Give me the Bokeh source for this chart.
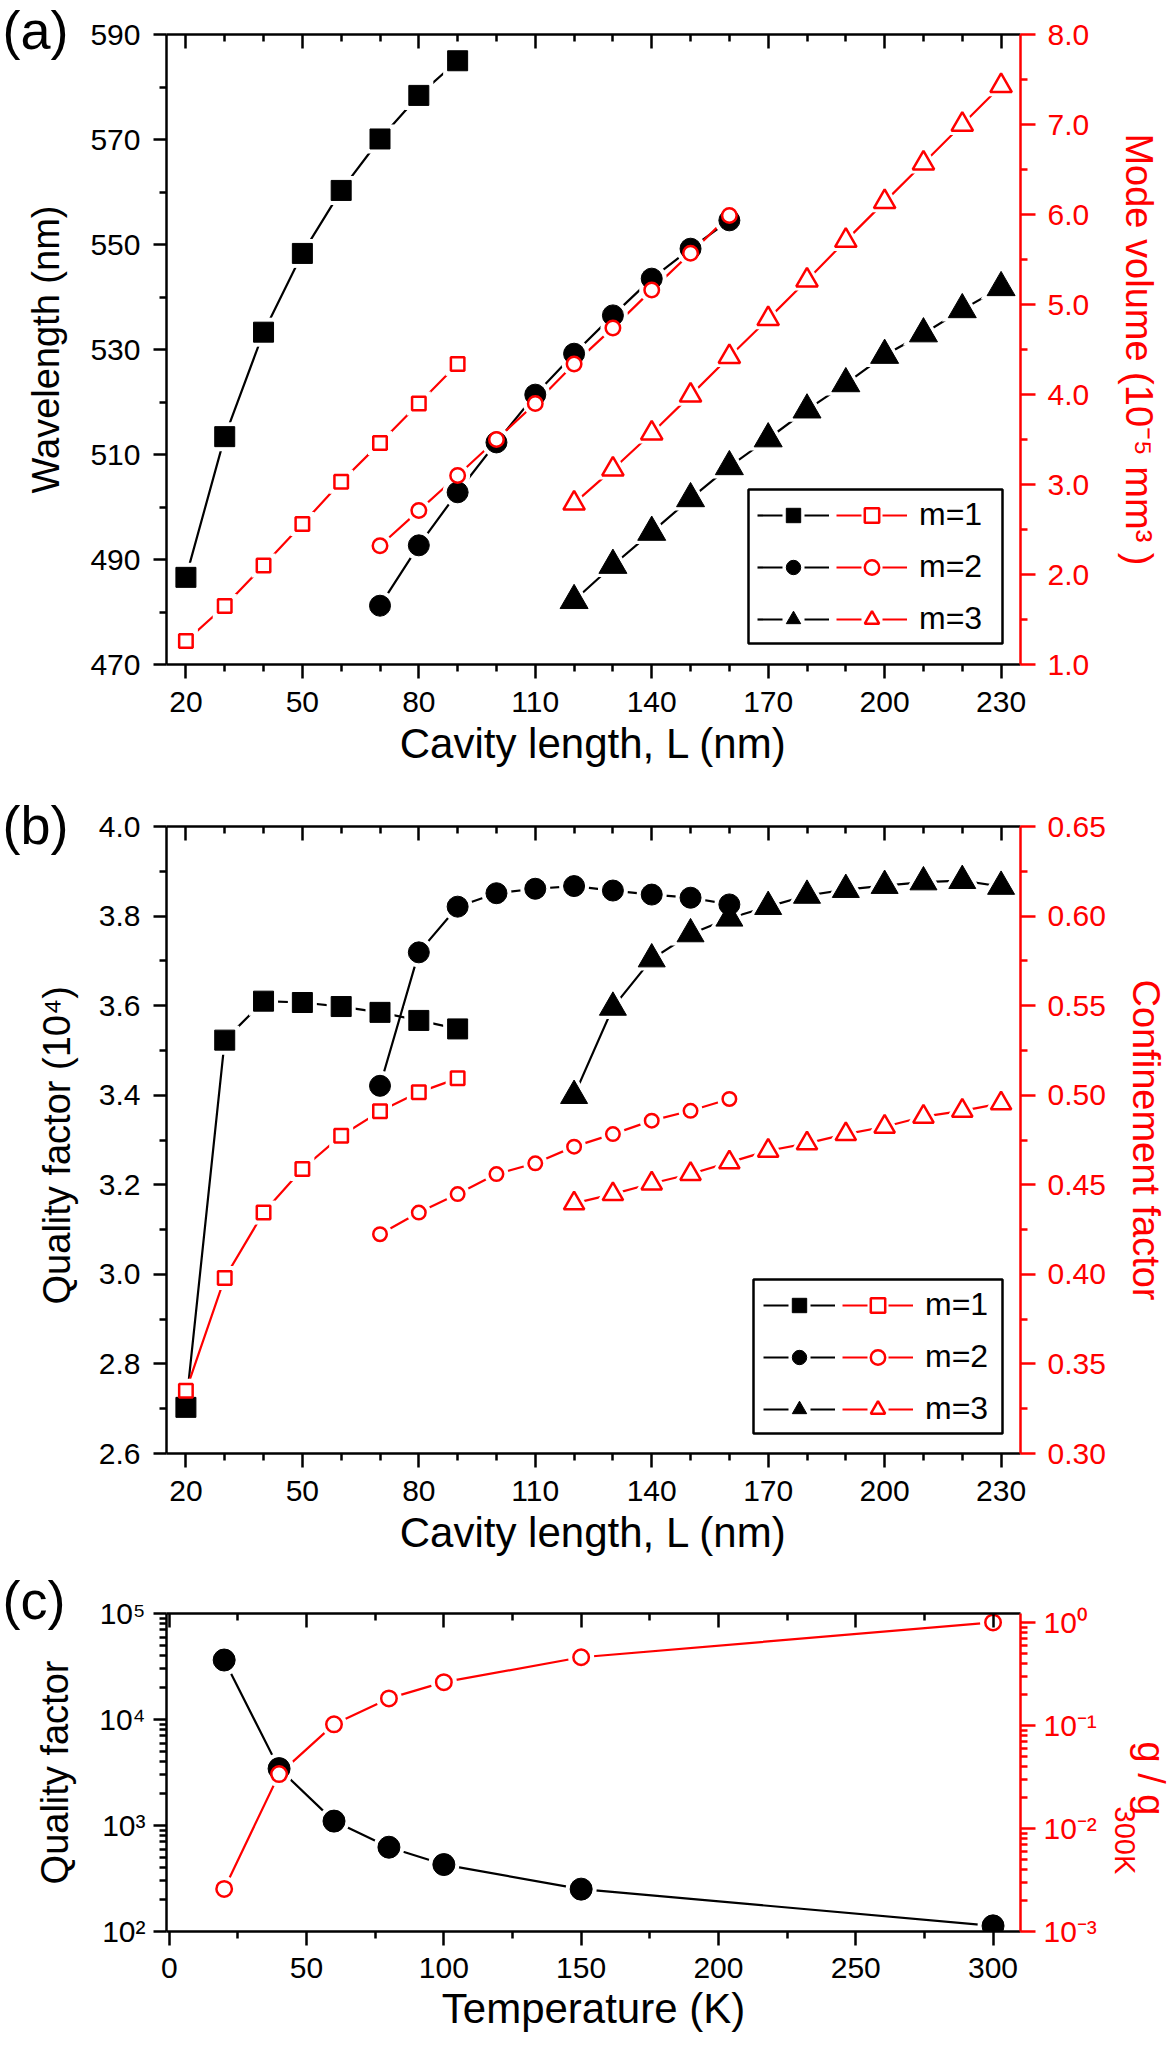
from bokeh.plotting import figure
from bokeh.models import (Range1d, LinearAxis, LogAxis, FixedTicker, Legend, LegendItem,
                          BoxAnnotation, Title, CustomJSTickFormatter, LogScale,
                          NumeralTickFormatter)
from bokeh.layouts import column
from bokeh.embed import file_html
from bokeh.resources import INLINE

FONT = "Liberation Sans"
RED = "#ff0000"
BLACK = "#000000"
NAN = float("nan")

# ---------------- data: panels (a) and (b) ----------------
L_m1 = [20, 30, 40, 50, 60, 70, 80, 90]
L_m2 = [70, 80, 90, 100, 110, 120, 130, 140, 150, 160]
L_m3 = [120, 130, 140, 150, 160, 170, 180, 190, 200, 210, 220, 230]

wavelength_m1 = [486.6, 513.4, 533.3, 548.3, 560.3, 570.1, 578.4, 585.0]
wavelength_m2 = [481.2, 492.7, 502.8, 512.3, 521.4, 529.2, 536.5, 543.5, 549.2, 554.6]
wavelength_m3 = [482.2, 488.9, 495.2, 501.6, 507.7, 513.0, 518.5, 523.5, 528.9, 533.0, 537.6, 541.8]

volume_m1 = [1.26, 1.65, 2.10, 2.56, 3.03, 3.46, 3.90, 4.34]
volume_m2 = [2.32, 2.71, 3.10, 3.50, 3.90, 4.34, 4.74, 5.16, 5.57, 5.99]
volume_m3 = [2.79, 3.17, 3.57, 3.99, 4.42, 4.84, 5.27, 5.71, 6.14, 6.57, 7.00, 7.43]

quality_m1 = [2.703, 3.523, 3.610, 3.607, 3.598, 3.585, 3.567, 3.548]
quality_m2 = [3.421, 3.719, 3.821, 3.851, 3.861, 3.867, 3.857, 3.848, 3.841, 3.826]
quality_m3 = [3.399, 3.596, 3.704, 3.760, 3.795, 3.821, 3.846, 3.859, 3.868, 3.876, 3.879, 3.866]

confinement_m1 = [0.335, 0.398, 0.4345, 0.4588, 0.4774, 0.491, 0.5016, 0.5094]
confinement_m2 = [0.4224, 0.4345, 0.4448, 0.456, 0.462, 0.4713, 0.4783, 0.4858, 0.4913, 0.4979]
confinement_m3 = [0.4396, 0.4448, 0.4507, 0.456, 0.4625, 0.469, 0.4731, 0.4783, 0.4824, 0.488, 0.4913, 0.4954]

legend_labels = ["m=1", "m=2", "m=3"]

# ---------------- data: panel (c) ----------------
temperature = [20, 40, 60, 80, 100, 150, 300]
quality_T = [36400, 3440, 1100, 624, 428, 251, 113]
g_ratio = [0.00259, 0.0337, 0.1025, 0.183, 0.263, 0.459, 1.0]

# ---------------- ticks ----------------
L_major = [20, 50, 80, 110, 140, 170, 200, 230]
L_minor = [30, 40, 60, 70, 90, 100, 120, 130, 150, 160, 180, 190, 210, 220]
wl_major = [470, 490, 510, 530, 550, 570, 590]
wl_minor = [480, 500, 520, 540, 560, 580]
vol_major = [1.0, 2.0, 3.0, 4.0, 5.0, 6.0, 7.0, 8.0]
vol_minor = [1.5, 2.5, 3.5, 4.5, 5.5, 6.5, 7.5]
q_major = [2.6, 2.8, 3.0, 3.2, 3.4, 3.6, 3.8, 4.0]
q_minor = [2.7, 2.9, 3.1, 3.3, 3.5, 3.7, 3.9]
cf_major = [0.30, 0.35, 0.40, 0.45, 0.50, 0.55, 0.60, 0.65]
cf_minor = [0.325, 0.375, 0.425, 0.475, 0.525, 0.575, 0.625]
T_major = [0, 50, 100, 150, 200, 250, 300]
T_minor = [25, 75, 125, 175, 225, 275]
Qc_major = [1e2, 1e3, 1e4, 1e5]
Qc_minor = [k * 10.0 ** n for n in (2, 3, 4) for k in range(2, 10)]
g_major = [1e-3, 1e-2, 1e-1, 1.0]
g_minor = [k * 10.0 ** n for n in (-3, -2, -1) for k in range(2, 10)]

POW_FMT = CustomJSTickFormatter(code="""
const s = {'0':'\\u2070','1':'\\u00b9','2':'\\u00b2','3':'\\u00b3','4':'\\u2074','5':'\\u2075','-':'\\u207b'};
const e = Math.round(Math.log10(tick));
return '10' + String(e).split('').map(c => s[c]).join('');
""")

TICK_FONT = "30px"


def style(ax, color=BLACK, tick_out=14, minor_out=7, lab_standoff=13,
          title_size="38px", title_standoff=20):
    ax.axis_line_color = color
    ax.axis_line_width = 2.5
    ax.major_tick_line_color = color
    ax.minor_tick_line_color = color
    ax.major_tick_line_width = 2.5
    ax.minor_tick_line_width = 2.5
    ax.major_tick_in = 0
    ax.major_tick_out = tick_out
    ax.minor_tick_in = 0
    ax.minor_tick_out = minor_out
    ax.major_label_text_color = color
    ax.major_label_text_font = FONT
    ax.major_label_text_font_size = TICK_FONT
    ax.major_label_standoff = lab_standoff
    ax.axis_label_text_color = color
    ax.axis_label_text_font = FONT
    ax.axis_label_text_font_size = title_size
    ax.axis_label_text_font_style = "normal"
    ax.axis_label_standoff = title_standoff


def add_top(p, major, minor):
    ax = LinearAxis(ticker=FixedTicker(ticks=major, minor_ticks=minor))
    style(ax)
    ax.major_tick_in = 14
    ax.major_tick_out = 0
    ax.minor_tick_in = 7
    ax.minor_tick_out = 0
    ax.major_label_text_font_size = "10px"
    ax.major_label_text_color = None
    ax.major_label_standoff = 0
    p.add_layout(ax, "above")


def make_fig(xr, yr, top, fh, bottom, y_axis_type="linear"):
    p = figure(frame_width=854, frame_height=fh, min_border_left=166, min_border_right=155,
               min_border_top=top, min_border_bottom=bottom, x_range=xr, y_range=yr,
               y_axis_type=y_axis_type, output_backend="svg", toolbar_location=None, tools="")
    p.outline_line_color = None
    p.xgrid.visible = False
    p.ygrid.visible = False
    p.background_fill_color = "white"
    p.border_fill_color = "white"
    return p


def draw_series(p, specs):
    """specs: list of dict(x, y, marker, size, color, filled, yname)"""
    lines, markers = [], []
    for s in specs:
        kw = {"y_range_name": s["yname"]} if s.get("yname") else {}
        lines.append(p.line(s["x"], s["y"], line_color=s["color"], line_width=2.2, **kw))
    for s in specs:
        kw = {"y_range_name": s["yname"]} if s.get("yname") else {}
        extra = 12 if s["marker"] == "triangle" else 8
        p.scatter(s["x"], s["y"], marker=s["marker"], size=s["size"] + extra,
                  fill_color="white", line_color=None, **kw)
    for s in specs:
        kw = {"y_range_name": s["yname"]} if s.get("yname") else {}
        if s["filled"]:
            m = p.scatter(s["x"], s["y"], marker=s["marker"], size=s["size"] - 1,
                          fill_color=s["color"], line_color=s["color"], line_width=1, **kw)
        else:
            m = p.scatter(s["x"], s["y"], marker=s["marker"], size=s["size"] - 2.5,
                          fill_color="white", line_color=s["color"], line_width=2.5, **kw)
        markers.append(m)
    return lines, markers


def add_legend(p, blk_markers, red_markers, box, locA, locB):
    p.add_layout(BoxAnnotation(left=box[0], right=box[1], bottom=box[2], top=box[3],
                               left_units="screen", right_units="screen",
                               top_units="screen", bottom_units="screen",
                               fill_color="white", fill_alpha=1.0,
                               line_color="black", line_width=2.5, line_alpha=1.0))
    # legend-only line samples (a single NaN point, so nothing shows in the plot area)
    blk_dash = [p.line([NAN], [NAN], line_color=BLACK, line_width=2.2, line_dash="25 22")
                for _ in blk_markers]
    red_dash = [p.line([NAN], [NAN], line_color=RED, line_width=2.2, line_dash="25 21")
                for _ in red_markers]
    common = dict(orientation="vertical", glyph_height=36, spacing=15, padding=0, margin=0,
                  border_line_color=None, background_fill_alpha=0.0,
                  label_text_font=FONT, label_text_font_size="32px")
    legA = Legend(items=[LegendItem(label=t, renderers=[d, m])
                         for t, d, m in zip(legend_labels, blk_dash, blk_markers)],
                  location=locA, glyph_width=72, label_standoff=0, label_width=0,
                  label_text_color=None, **common)
    legB = Legend(items=[LegendItem(label=t, renderers=[d, m])
                         for t, d, m in zip(legend_labels, red_dash, red_markers)],
                  location=locB, glyph_width=71, label_standoff=12, label_width=0,
                  label_text_color=BLACK, **common)
    p.add_layout(legA)
    p.add_layout(legB)


def tag(p, text, standoff):
    # panel tag placed in the top border panel, pulled down next to the frame corner
    p.add_layout(Title(text=text, align="left", vertical_align="bottom", offset=-164,
                       standoff=standoff, text_font=FONT, text_font_size="54px",
                       text_font_style="normal", text_color=BLACK), "above")


# ======================= panel (a) =======================
pa = make_fig(Range1d(15, 235), Range1d(470, 590), 34, 630, 116)
pa.extra_y_ranges = {"vol": Range1d(1.0, 8.0)}
xa = pa.xaxis[0]
xa.ticker = FixedTicker(ticks=L_major, minor_ticks=L_minor)
xa.formatter = NumeralTickFormatter(format="0")
xa.axis_label = "Cavity length, L (nm)"
style(xa, title_size="42px", lab_standoff=13, title_standoff=5)
ya = pa.yaxis[0]
ya.ticker = FixedTicker(ticks=wl_major, minor_ticks=wl_minor)
ya.formatter = NumeralTickFormatter(format="0")
ya.axis_label = "Wavelength (nm)"
style(ya, tick_out=13, title_standoff=20)
ra = LinearAxis(y_range_name="vol", ticker=FixedTicker(ticks=vol_major, minor_ticks=vol_minor),
                formatter=NumeralTickFormatter(format="0.0"),
                axis_label="Mode volume (10\u207b\u2075 mm\u00b3 )")
style(ra, color=RED, tick_out=15, lab_standoff=12, title_standoff=26)
pa.add_layout(ra, "right")
add_top(pa, L_major, L_minor)

la, ma = draw_series(pa, [
    dict(x=L_m1, y=wavelength_m1, marker="square", size=21, color=BLACK, filled=True),
    dict(x=L_m2, y=wavelength_m2, marker="circle", size=22, color=BLACK, filled=True),
    dict(x=L_m3, y=wavelength_m3, marker="triangle", size=29, color=BLACK, filled=True),
    dict(x=L_m1, y=volume_m1, marker="square", size=16, color=RED, filled=False, yname="vol"),
    dict(x=L_m2, y=volume_m2, marker="circle", size=17, color=RED, filled=False, yname="vol"),
    dict(x=L_m3, y=volume_m3, marker="triangle", size=24, color=RED, filled=False, yname="vol"),
])
add_legend(pa, ma[:3], ma[3:], box=(582, 836, 21, 175), locA=(591, 27), locB=(670, 27))
tag(pa, "(a)", -50)

# ======================= panel (b) =======================
pb = make_fig(Range1d(15, 235), Range1d(2.6, 4.0), 46, 627, 115)
pb.extra_y_ranges = {"cf": Range1d(0.30, 0.65)}
xb = pb.xaxis[0]
xb.ticker = FixedTicker(ticks=L_major, minor_ticks=L_minor)
xb.formatter = NumeralTickFormatter(format="0")
xb.axis_label = "Cavity length, L (nm)"
style(xb, title_size="42px", lab_standoff=13, title_standoff=5)
yb = pb.yaxis[0]
yb.ticker = FixedTicker(ticks=q_major, minor_ticks=q_minor)
yb.formatter = NumeralTickFormatter(format="0.0")
yb.axis_label = "Quality factor  (10\u2074)"
style(yb, tick_out=13, title_standoff=18)
rb = LinearAxis(y_range_name="cf", ticker=FixedTicker(ticks=cf_major, minor_ticks=cf_minor),
                formatter=NumeralTickFormatter(format="0.00"),
                axis_label="Confinement factor")
style(rb, color=RED, tick_out=15, lab_standoff=12, title_standoff=16)
pb.add_layout(rb, "right")
add_top(pb, L_major, L_minor)

lb, mb = draw_series(pb, [
    dict(x=L_m1, y=quality_m1, marker="square", size=21, color=BLACK, filled=True),
    dict(x=L_m2, y=quality_m2, marker="circle", size=22, color=BLACK, filled=True),
    dict(x=L_m3, y=quality_m3, marker="triangle", size=28, color=BLACK, filled=True),
    dict(x=L_m1, y=confinement_m1, marker="square", size=16, color=RED, filled=False, yname="cf"),
    dict(x=L_m2, y=confinement_m2, marker="circle", size=16, color=RED, filled=False, yname="cf"),
    dict(x=L_m3, y=confinement_m3, marker="triangle", size=23, color=RED, filled=False, yname="cf"),
])
add_legend(pb, mb[:3], mb[3:], box=(587, 836, 20, 174), locA=(597, 26), locB=(676, 26))
tag(pb, "(b)", -56)

# ======================= panel (c) =======================
pc = make_fig(Range1d(-1, 310), Range1d(1e2, 1e5), 45, 318, 115, y_axis_type="log")
pc.extra_y_ranges = {"g": Range1d(1e-3, 1.22)}
pc.extra_y_scales = {"g": LogScale()}
xc = pc.xaxis[0]
xc.ticker = FixedTicker(ticks=T_major, minor_ticks=T_minor)
xc.formatter = NumeralTickFormatter(format="0")
xc.axis_label = "Temperature (K)"
style(xc, title_size="42px", lab_standoff=12, title_standoff=4)
yc = pc.yaxis[0]
yc.ticker = FixedTicker(ticks=Qc_major, minor_ticks=Qc_minor)
yc.formatter = POW_FMT
yc.axis_label = "Quality factor"
style(yc, tick_out=13, lab_standoff=8, title_standoff=20)
rc = LogAxis(y_range_name="g", ticker=FixedTicker(ticks=g_major, minor_ticks=g_minor),
             formatter=POW_FMT)
style(rc, color=RED, tick_out=15, lab_standoff=8)
pc.add_layout(rc, "right")
add_top(pc, T_major, T_minor)

draw_series(pc, [
    dict(x=temperature, y=quality_T, marker="circle", size=23, color=BLACK, filled=True),
    dict(x=temperature, y=g_ratio, marker="circle", size=18, color=RED, filled=False, yname="g"),
])
# right axis title "g / g" with subscript "300K" (reads top to bottom), built from two titles
pc.add_layout(Title(text="300K", align="left", vertical_align="top", offset=193, standoff=14,
                    text_font=FONT, text_font_size="29px", text_font_style="normal",
                    text_color=RED), "right")
pc.add_layout(Title(text="g / g", align="left", vertical_align="top", offset=128, standoff=-40,
                    text_font=FONT, text_font_size="38px", text_font_style="normal",
                    text_color=RED), "right")
tag(pc, "(c)", -32)

layout = column(pa, pb, pc, spacing=0)
open("out.html", "w", encoding="utf-8").write(file_html(layout, INLINE, title="cavity"))
